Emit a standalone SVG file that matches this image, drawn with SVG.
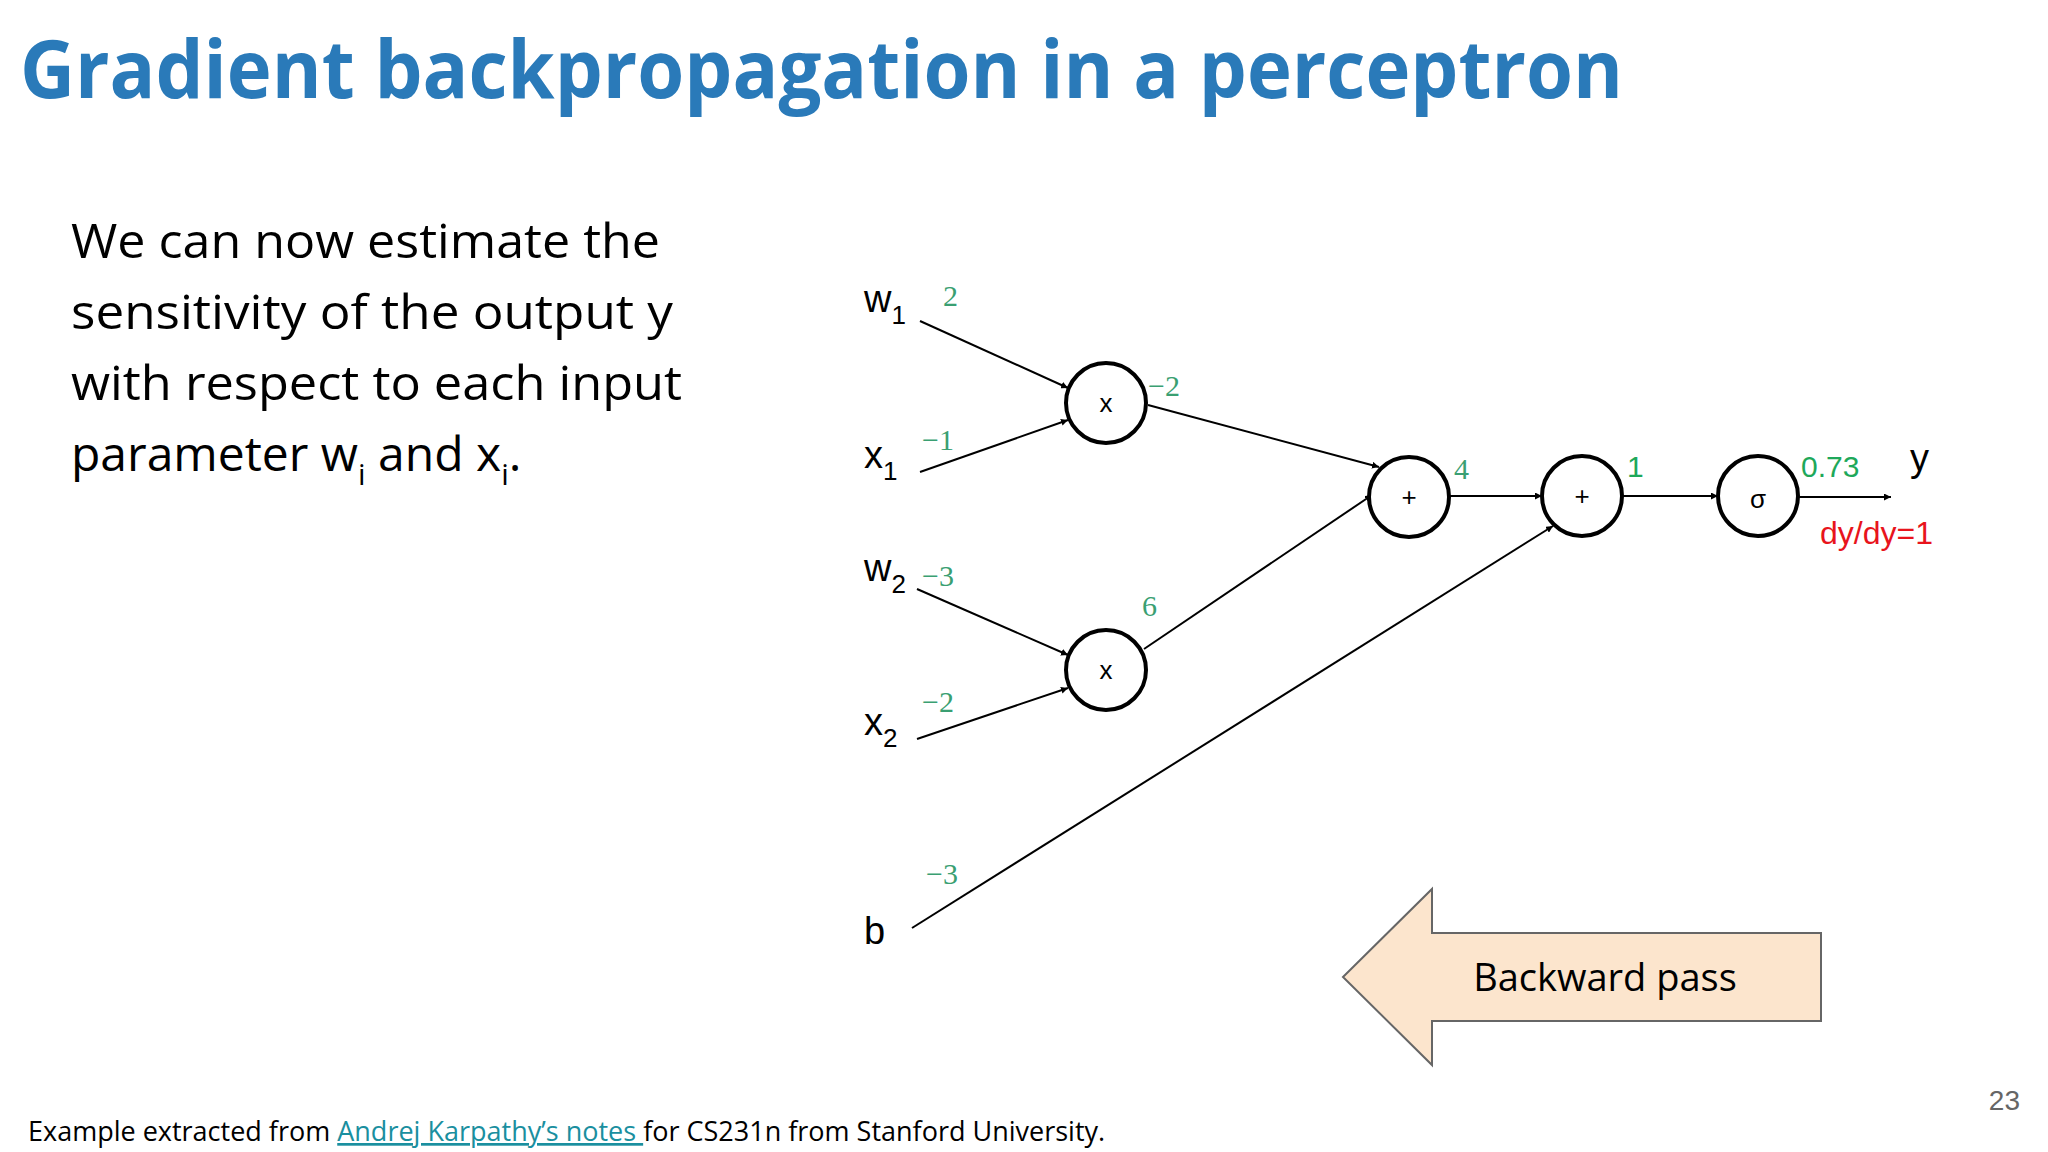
<svg xmlns="http://www.w3.org/2000/svg" width="2048" height="1152" viewBox="0 0 2048 1152">
<style>
.t{font-family:"Open Sans","Liberation Sans",sans-serif;fill:#000}
.lab{font-family:"Liberation Sans",Arial,sans-serif;font-size:38px;fill:#000}
.sub{font-size:26px}
.g{font-family:"Liberation Serif",serif;font-size:30px;fill:#3a9f72}
.g2{font-family:"Liberation Sans",sans-serif;font-size:30px;fill:#1ea85a}
.n{fill:#fff;stroke:#000;stroke-width:4}
.op{font-family:"Liberation Sans",sans-serif;font-size:26px;text-anchor:middle}
.e{stroke:#000;stroke-width:2;fill:none;marker-end:url(#a)}
</style>
<defs><marker id="a" viewBox="0 0 10 10" refX="10" refY="5" markerWidth="7" markerHeight="7" markerUnits="userSpaceOnUse" orient="auto"><path d="M0,0L10,5L0,10z" fill="#000"/></marker></defs>
<rect width="2048" height="1152" fill="#fff"/>
<text x="20" y="98" font-family="Open Sans,Liberation Sans,sans-serif" font-weight="bold" font-size="80" fill="#2a7ab9" textLength="1603" lengthAdjust="spacingAndGlyphs">Gradient backpropagation in a perceptron</text>
<g class="t" font-size="48">
<text x="71" y="258" textLength="589" lengthAdjust="spacingAndGlyphs">We can now estimate the</text>
<text x="71" y="329" textLength="602" lengthAdjust="spacingAndGlyphs">sensitivity of the output y</text>
<text x="71" y="400" textLength="611" lengthAdjust="spacingAndGlyphs">with respect to each input</text>
<text x="71" y="471">parameter w<tspan font-size="30" dy="14">i</tspan><tspan dy="-14"> and x</tspan><tspan font-size="30" dy="14">i</tspan><tspan dy="-14">.</tspan></text>
</g>
<g id="connectors">
<line class="e" x1="920" y1="321" x2="1068" y2="388"/>
<line class="e" x1="920" y1="472" x2="1068" y2="420"/>
<line class="e" x1="917" y1="589" x2="1068" y2="655"/>
<line class="e" x1="917" y1="739" x2="1068" y2="688"/>
<line class="e" x1="1148" y1="405" x2="1379" y2="467"/>
<line class="e" x1="1144" y1="649" x2="1372" y2="495"/>
<line class="e" x1="912" y1="928" x2="1553" y2="526"/>
<line class="e" x1="1449" y1="496" x2="1542" y2="496"/>
<line class="e" x1="1622" y1="496" x2="1718" y2="496"/>
<line class="e" x1="1798" y1="497" x2="1891" y2="497"/>
</g>
<g id="w1"><text class="lab" x="864" y="312">w<tspan class="sub" dy="12">1</tspan></text></g>
<g id="x1"><text class="lab" x="864" y="468">x<tspan class="sub" dy="12">1</tspan></text></g>
<g id="w2"><text class="lab" x="864" y="581">w<tspan class="sub" dy="12">2</tspan></text></g>
<g id="x2"><text class="lab" x="864" y="735">x<tspan class="sub" dy="12">2</tspan></text></g>
<g id="b"><text class="lab" x="864" y="944">b</text></g>
<g id="mul1"><circle class="n" cx="1106" cy="403" r="40"/><text class="op" x="1106" y="412">x</text></g>
<g id="mul2"><circle class="n" cx="1106" cy="670" r="40"/><text class="op" x="1106" y="679">x</text></g>
<g id="add1"><circle class="n" cx="1409" cy="497" r="40"/><text class="op" x="1409" y="506">+</text></g>
<g id="add2"><circle class="n" cx="1582" cy="496" r="40"/><text class="op" x="1582" y="505">+</text></g>
<g id="sigma"><circle class="n" cx="1758" cy="496" r="40"/><text class="op" x="1758" y="508" font-size="30">σ</text></g>
<g id="values">
<text class="g" x="943" y="306">2</text>
<text class="g" x="922" y="450">−1</text>
<text class="g" x="1148" y="396">−2</text>
<text class="g" x="922" y="586">−3</text>
<text class="g" x="1142" y="616">6</text>
<text class="g" x="922" y="712">−2</text>
<text class="g" x="926" y="884">−3</text>
<text class="g" x="1454" y="479">4</text>
<text class="g2" x="1627" y="477">1</text>
<text class="g2" x="1801" y="477">0.73</text>
<text class="lab" x="1910" y="471">y</text>
<text x="1820" y="544" font-family="Liberation Sans,sans-serif" font-size="32" fill="#e8141c">dy/dy=1</text>
</g>
<g id="backward">
<polygon points="1343,977 1432,889 1432,933 1821,933 1821,1021 1432,1021 1432,1065" fill="#fce5cd" stroke="#666" stroke-width="2"/>
<text x="1605" y="991" text-anchor="middle" font-family="Open Sans,Liberation Sans,sans-serif" font-size="38">Backward pass</text>
</g>
<text x="28" y="1141" font-family="Open Sans,Liberation Sans,sans-serif" font-size="27" fill="#000">Example extracted from <tspan fill="#1a8f9f" text-decoration="underline">Andrej Karpathy’s notes </tspan>for CS231n from Stanford University.</text>
<text x="2020" y="1110" text-anchor="end" font-family="Liberation Sans,sans-serif" font-size="28" fill="#666">23</text>
</svg>
